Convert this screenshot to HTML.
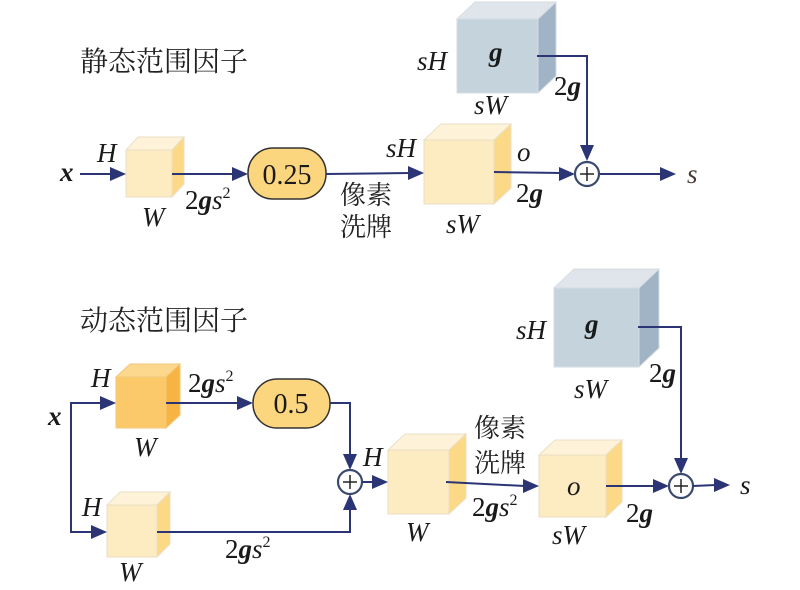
<!DOCTYPE html>
<html><head><meta charset="utf-8"><style>
html,body{margin:0;padding:0;background:#fff;}
svg{display:block;}
.t{font-family:"Liberation Serif",serif;font-style:italic;font-size:27px;fill:#1a1a1a;}
.n{font-family:"Liberation Serif",serif;font-size:27px;fill:#1a1a1a;}
.b{font-weight:bold;}
.cj{font-family:"Liberation Serif","Noto Serif CJK SC",serif;font-size:26px;fill:#222;}
.ln{stroke:#2b3575;stroke-width:2;fill:none;}
.ah{fill:#2b3575;}
</style></head><body>
<svg width="800" height="590" viewBox="0 0 800 590" xmlns="http://www.w3.org/2000/svg">
<!-- titles -->
<text class="cj" x="80" y="71" style="font-size:28px">静态范围因子</text>
<text class="cj" x="80" y="330" style="font-size:28px">动态范围因子</text>

<!-- ============ TOP ============ -->
<g stroke="#eadfc4" stroke-width="1">
<polygon points="126,150 138,137 184,137 172,150" fill="#fef3d8"/>
<polygon points="172,150 184,137 184,184 172,197" fill="#fcd987"/>
<rect x="126" y="150" width="46" height="47" fill="#fdebc1"/>
</g>
<g stroke="#d6dde3" stroke-width="1">
<polygon points="457,19 475,2 556,2 538,19" fill="#dfe5ea"/>
<polygon points="538,19 556,2 556,76 538,93" fill="#a0b4c5"/>
<rect x="457" y="19" width="81" height="74" fill="#c5d3dd"/>
</g>
<g stroke="#eadfc4" stroke-width="1">
<polygon points="424,140 441,124 511,124 494,140" fill="#fef3d8"/>
<polygon points="494,140 511,124 511,188 494,204" fill="#fcd987"/>
<rect x="424" y="140" width="70" height="64" fill="#fdebc1"/>
</g>
<rect x="248" y="148" width="78" height="51" rx="25" ry="25" fill="#fcd67e" stroke="#333" stroke-width="1.5"/>
<text class="n" x="287" y="184" text-anchor="middle" style="font-size:28px">0.25</text>

<line class="ln" x1="80" y1="174" x2="112" y2="174"/>
<polygon class="ah" points="126,174 110,167 110,181"/>
<line class="ln" x1="172" y1="174" x2="234" y2="174"/>
<polygon class="ah" points="248,174 232,167 232,181"/>
<line class="ln" x1="326" y1="174" x2="410" y2="173"/>
<polygon class="ah" points="424,173 408,166 408,180"/>
<line class="ln" x1="494" y1="172" x2="561" y2="173"/>
<polygon class="ah" points="575,174 559,167 559,181"/>
<polyline class="ln" points="537,56 587,56 587,147"/>
<polygon class="ah" points="587,161 580,145 594,145"/>
<line class="ln" x1="599" y1="174" x2="662" y2="174"/>
<polygon class="ah" points="676,174 660,167 660,181"/>
<circle cx="587" cy="174" r="12" fill="#fff" stroke="#3a4a6e" stroke-width="2.2"/>
<line x1="580" y1="174" x2="594" y2="174" stroke="#222" stroke-width="1.5"/>
<line x1="587" y1="167" x2="587" y2="181" stroke="#222" stroke-width="1.5"/>

<text class="t b" x="60" y="181" style="font-size:27px">x</text>
<text class="t" x="97" y="162">H</text>
<text class="t" x="142" y="226">W</text>
<text class="n" x="185" y="209">2<tspan class="b" style="font-style:italic">g</tspan><tspan style="font-style:italic">s</tspan><tspan dy="-11" style="font-size:16px">2</tspan></text>
<text class="cj" x="340" y="204">像素</text>
<text class="cj" x="340" y="236">洗牌</text>
<text class="t" x="386" y="157">sH</text>
<text class="t b" x="489" y="61">g</text>
<text class="t" x="417" y="70">sH</text>
<text class="t" x="474" y="114">sW</text>
<text class="n" x="554" y="95">2<tspan class="b" style="font-style:italic">g</tspan></text>
<text class="t" x="517" y="161">o</text>
<text class="n" x="516" y="202">2<tspan class="b" style="font-style:italic">g</tspan></text>
<text class="t" x="446" y="233">sW</text>
<text class="t" x="687" y="183" style="fill:#4a3c34">s</text>

<!-- ============ BOTTOM ============ -->
<g stroke="#f4c77a" stroke-width="1">
<polygon points="116,377 130,364 180,364 166,377" fill="#fcd88e"/>
<polygon points="166,377 180,364 180,415 166,428" fill="#f8b443"/>
<rect x="116" y="377" width="50" height="51" fill="#fbc96a"/>
</g>
<g stroke="#eadfc4" stroke-width="1">
<polygon points="107,505 120,492 170,492 157,505" fill="#fef3d8"/>
<polygon points="157,505 170,492 170,544 157,557" fill="#fcd987"/>
<rect x="107" y="505" width="50" height="52" fill="#fdebc1"/>
</g>
<g stroke="#eadfc4" stroke-width="1">
<polygon points="388,450 405,434 466,434 449,450" fill="#fef3d8"/>
<polygon points="449,450 466,434 466,498 449,514" fill="#fcd987"/>
<rect x="388" y="450" width="61" height="64" fill="#fdebc1"/>
</g>
<g stroke="#eadfc4" stroke-width="1">
<polygon points="539,455 555,440 622,440 606,455" fill="#fef3d8"/>
<polygon points="606,455 622,440 622,502 606,517" fill="#fcd987"/>
<rect x="539" y="455" width="67" height="62" fill="#fdebc1"/>
</g>
<g stroke="#d6dde3" stroke-width="1">
<polygon points="554,288 574,269 659,269 639,288" fill="#dfe5ea"/>
<polygon points="639,288 659,269 659,348 639,367" fill="#a0b4c5"/>
<rect x="554" y="288" width="85" height="79" fill="#c5d3dd"/>
</g>
<rect x="253" y="379" width="77" height="49" rx="24" ry="24" fill="#fcd67e" stroke="#333" stroke-width="1.5"/>
<text class="n" x="291" y="413" text-anchor="middle" style="font-size:28px">0.5</text>

<polyline class="ln" points="102,403 71,403 71,532 93,532"/>
<polygon class="ah" points="116,403 100,396 100,410"/>
<polygon class="ah" points="107,532 91,525 91,539"/>
<line class="ln" x1="166" y1="403" x2="239" y2="403"/>
<polygon class="ah" points="253,403 237,396 237,410"/>
<polyline class="ln" points="330,403 350,403 350,456"/>
<polygon class="ah" points="350,470 343,454 357,454"/>
<polyline class="ln" points="157,532 350,532 350,508"/>
<polygon class="ah" points="350,494 343,510 357,510"/>
<circle cx="350" cy="482" r="12" fill="#fff" stroke="#3a4a6e" stroke-width="2.2"/>
<line x1="343" y1="482" x2="357" y2="482" stroke="#222" stroke-width="1.5"/>
<line x1="350" y1="475" x2="350" y2="489" stroke="#222" stroke-width="1.5"/>
<line class="ln" x1="362" y1="482" x2="374" y2="482"/>
<polygon class="ah" points="388,482 372,475 372,489"/>
<line class="ln" x1="446" y1="482" x2="525" y2="486"/>
<polygon class="ah" points="539,486 523,479 523,493"/>
<line class="ln" x1="606" y1="486" x2="655" y2="486"/>
<polygon class="ah" points="669,486 653,479 653,493"/>
<polyline class="ln" points="638,327 681,327 681,460"/>
<polygon class="ah" points="681,474 674,458 688,458"/>
<circle cx="681" cy="486" r="12" fill="#fff" stroke="#3a4a6e" stroke-width="2.2"/>
<line x1="674" y1="486" x2="688" y2="486" stroke="#222" stroke-width="1.5"/>
<line x1="681" y1="479" x2="681" y2="493" stroke="#222" stroke-width="1.5"/>
<line class="ln" x1="693" y1="486" x2="716" y2="485"/>
<polygon class="ah" points="730,485 714,478 714,492"/>

<text class="t b" x="48" y="425" style="font-size:27px">x</text>
<text class="t" x="91" y="387">H</text>
<text class="t" x="134" y="456">W</text>
<text class="n" x="188" y="392">2<tspan class="b" style="font-style:italic">g</tspan><tspan style="font-style:italic">s</tspan><tspan dy="-11" style="font-size:16px">2</tspan></text>
<text class="t" x="82" y="516">H</text>
<text class="t" x="119" y="581">W</text>
<text class="n" x="225" y="558">2<tspan class="b" style="font-style:italic">g</tspan><tspan style="font-style:italic">s</tspan><tspan dy="-11" style="font-size:16px">2</tspan></text>
<text class="t" x="363" y="466">H</text>
<text class="t" x="406" y="541">W</text>
<text class="cj" x="474" y="437">像素</text>
<text class="cj" x="474" y="472">洗牌</text>
<text class="n" x="472" y="516">2<tspan class="b" style="font-style:italic">g</tspan><tspan style="font-style:italic">s</tspan><tspan dy="-11" style="font-size:16px">2</tspan></text>
<text class="t" x="567" y="495">o</text>
<text class="t" x="552" y="544">sW</text>
<text class="n" x="626" y="522">2<tspan class="b" style="font-style:italic">g</tspan></text>
<text class="t" x="740" y="494">s</text>
<text class="t b" x="585" y="333">g</text>
<text class="t" x="516" y="339">sH</text>
<text class="t" x="574" y="398">sW</text>
<text class="n" x="649" y="382">2<tspan class="b" style="font-style:italic">g</tspan></text>
</svg>
</body></html>
